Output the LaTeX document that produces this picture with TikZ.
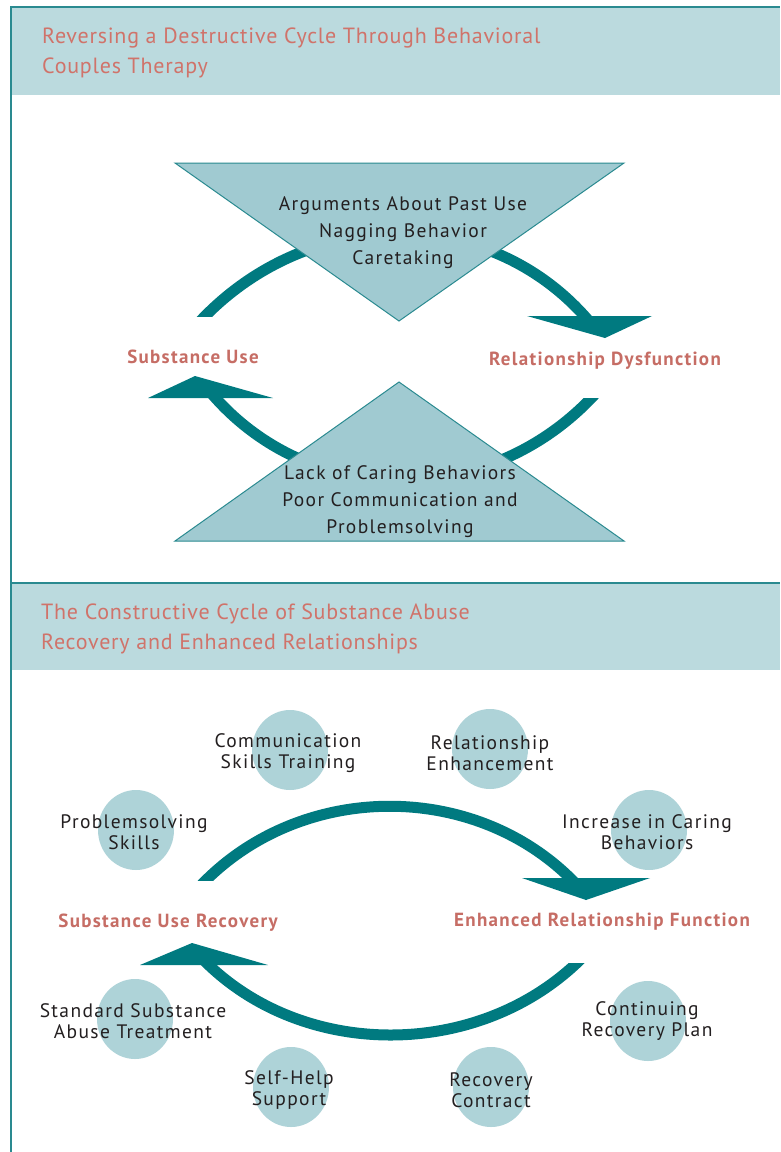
\documentclass[tikz,border=0pt]{standalone}
\usepackage{fontspec}
\setmainfont{PT Sans}
\newfontfamily\spacedfont{PT Sans}[LetterSpace=7]
\newfontfamily\titlefont{PT Sans}[LetterSpace=3.5]
\usetikzlibrary{positioning}

\definecolor{arcteal}{RGB}{0,122,128}
\definecolor{bandblue}{RGB}{187,218,222}
\definecolor{trifill}{RGB}{160,202,209}
\definecolor{triline}{RGB}{42,138,144}
\definecolor{bubblue}{RGB}{174,211,216}
\definecolor{salmon}{RGB}{208,115,106}
\definecolor{ink}{RGB}{35,31,32}

\begin{document}
\begin{tikzpicture}[x=1pt, y=-1pt,
  title/.style = {anchor=west, inner sep=0pt, yshift=-2pt, text=salmon, align=left, font=\titlefont\fontsize{22}{30}\selectfont},
  cyclab/.style = {yshift=-1pt, text=salmon!95!black, font=\spacedfont\fontsize{19}{22}\selectfont\bfseries},
  body/.style = {yshift=-3pt, text=ink, align=center, font=\spacedfont\fontsize{19.5}{27}\selectfont},
  bubtext/.style = {yshift=-3pt, text=ink, align=center, font=\spacedfont\fontsize{19.5}{21}\selectfont},
  arcline/.style = {draw=arcteal, line width=11pt}]

\useasboundingbox (0,0) rectangle (780,1152);
\fill[white] (0,0) rectangle (780,1152);

% header bands and frame
\fill[bandblue] (11,8) rectangle (780,95);
\fill[bandblue] (11,584) rectangle (780,670);
\draw[triline, line width=1.5pt] (11,1152) -- (11,7) -- (780,7);
\draw[triline, line width=2pt] (11,583) -- (780,583);

\node[title] (titleA) at (42,51) {Reversing a Destructive Cycle Through Behavioral\\Couples Therapy};
\node[title] (titleB) at (41,627) {The Constructive Cycle of Substance Abuse\\Recovery and Enhanced Relationships};

% destructive cycle
\begin{scope}
\clip (0,0) rectangle (780,316);
\draw[arcline] (188,335) .. controls (300,200) and (500,200) .. (600,335);
\end{scope}
\fill[arcteal] (527,316) -- (652,316) -- (605,338) -- cycle;
\begin{scope}
\clip (0,398) rectangle (780,583);
\draw[arcline] (608,379) .. controls (500,514) and (300,514) .. (200,379);
\end{scope}
\fill[arcteal] (273,398) -- (148,398) -- (195,376) -- cycle;

\filldraw[fill=trifill, draw=triline, line width=1pt] (175,163) -- (624,163) -- (399,321) -- cycle;
\filldraw[fill=trifill, draw=triline, line width=1pt] (175,541) -- (624,541) -- (399,382) -- cycle;

\node[body] (argue) at (403,230) {Arguments About Past Use\\Nagging Behavior\\Caretaking};
\node[body] (lack) at (400,499) {Lack of Caring Behaviors\\Poor Communication and\\Problemsolving};

\node[cyclab] (use) at (193,356) {Substance Use};
\node[cyclab] (dysf) at (605,360) {Relationship Dysfunction};

% constructive cycle
\foreach \cx/\cy in {290/750, 490/749, 136/830, 649/830, 135/1019, 648/1021, 291/1087, 491/1087}
  \fill[bubblue] (\cx,\cy) ellipse [x radius=38, y radius=40];

\begin{scope}
\clip (0,670) rectangle (780,880);
\draw[arcline] (188,900) .. controls (290,775) and (490,775) .. (590,900);
\end{scope}
\fill[arcteal] (522,878) -- (650,878) -- (586,900) -- cycle;
\begin{scope}
\clip (0,963) rectangle (780,1152);
\draw[arcline] (594,945) .. controls (490,1065) and (290,1065) .. (190,945);
\end{scope}
\fill[arcteal] (268,965) -- (140,965) -- (192,943) -- cycle;

\node[bubtext] (comm) at (288,750) {Communication\\Skills Training};
\node[bubtext] (enh) at (490,750) {Relationship\\Enhancement};
\node[bubtext] (prob) at (134,829) {Problemsolving\\Skills};
\node[bubtext] (care) at (647,829) {Increase in Caring\\Behaviors};
\node[bubtext] (std) at (133,1018) {Standard Substance\\Abuse Treatment};
\node[bubtext] (cont) at (647,1018) {Continuing\\Recovery Plan};
\node[bubtext] (self) at (289,1087) {Self-Help\\Support};
\node[bubtext] (contr) at (491,1087) {Recovery\\Contract};

\node[cyclab] (rec) at (168,922) {Substance Use Recovery};
\node[cyclab] (func) at (602,921) {Enhanced Relationship Function};

\end{tikzpicture}
\end{document}
